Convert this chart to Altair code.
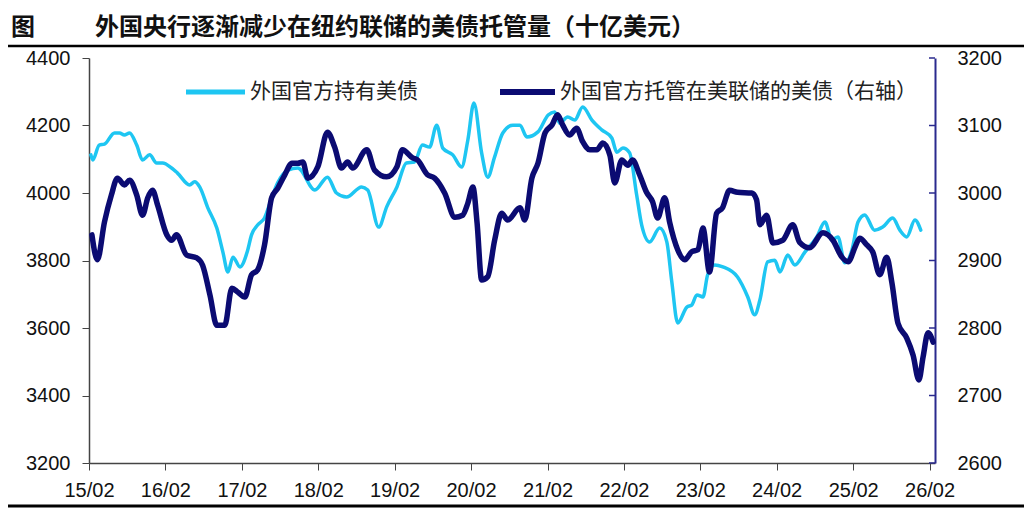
import altair as alt
import pandas as pd

# ---------------- data ----------------
light_dates = [
    "2015-02-10", "2015-02-19", "2015-03-22", "2015-04-16", "2015-06-03", "2015-06-27", "2015-07-20",
    "2015-08-14", "2015-09-17", "2015-10-15", "2015-11-18", "2015-12-21", "2016-01-19", "2016-03-02",
    "2016-03-30", "2016-05-27", "2016-06-20", "2016-07-14", "2016-08-22", "2016-10-04", "2016-11-02",
    "2016-11-26", "2016-12-20", "2017-01-23", "2017-02-26", "2017-03-19", "2017-04-17", "2017-05-20",
    "2017-06-23", "2017-07-22", "2017-09-09", "2017-10-26", "2018-01-16", "2018-03-17", "2018-04-29",
    "2018-06-16", "2018-08-27", "2018-09-25", "2018-11-17", "2018-12-25", "2019-02-12", "2019-03-29",
    "2019-05-07", "2019-06-14", "2019-07-18", "2019-08-21", "2019-09-19", "2019-11-06", "2019-12-18",
    "2020-01-17", "2020-02-15", "2020-03-23", "2020-04-21", "2020-05-24", "2020-07-02", "2020-08-19",
    "2020-09-22", "2020-10-25", "2020-12-17", "2021-02-04", "2021-03-07", "2021-03-31", "2021-05-08",
    "2021-06-11", "2021-07-19", "2021-09-01", "2021-10-18", "2021-12-05", "2021-12-29", "2022-01-27",
    "2022-02-28", "2022-04-03", "2022-04-27", "2022-06-04", "2022-07-22", "2022-08-25", "2022-09-18",
    "2022-10-16", "2022-11-29", "2022-12-22", "2023-01-16", "2023-02-14", "2023-03-08", "2023-04-11",
    "2023-05-20", "2023-07-29", "2023-09-16", "2023-10-19", "2023-11-13", "2023-12-20", "2024-01-23",
    "2024-02-17", "2024-03-25", "2024-04-28", "2024-06-15", "2024-08-11", "2024-09-19", "2024-10-22",
    "2024-11-20", "2024-12-23", "2025-01-26", "2025-02-24", "2025-03-28", "2025-05-14", "2025-06-22",
    "2025-08-09", "2025-09-12", "2025-10-15", "2025-11-23", "2025-12-21",
]
light_vals = [
    4113, 4098, 4142, 4145, 4178, 4178, 4172,
    4178, 4142, 4098, 4113, 4089, 4089, 4074,
    4059, 4024, 4033, 4018, 3956, 3896, 3825,
    3766, 3810, 3781, 3825, 3876, 3905, 3926,
    3985, 4030, 4068, 4074, 4009, 4047, 4000,
    3988, 4018, 4009, 3899, 3959, 4018, 4089,
    4092, 4142, 4136, 4201, 4133, 4113, 4077,
    4157, 4267, 4118, 4047, 4107, 4178, 4201,
    4201, 4166, 4181, 4231, 4240, 4207, 4225,
    4216, 4255, 4216, 4187, 4163, 4121, 4133,
    4119, 3994, 3905, 3855, 3896, 3855, 3736,
    3615, 3662, 3668, 3698, 3692, 3757, 3787,
    3781, 3751, 3692, 3639, 3683, 3796, 3801,
    3766, 3816, 3787, 3825, 3870, 3914, 3861,
    3870, 3793, 3831, 3914, 3935, 3890, 3899,
    3926, 3890, 3870, 3920, 3890,
]

dark_dates = [
    "2015-02-15", "2015-03-13", "2015-04-16", "2015-05-19", "2015-06-17", "2015-07-20", "2015-08-14",
    "2015-09-17", "2015-10-15", "2015-11-09", "2015-12-02", "2015-12-26", "2016-02-08", "2016-03-02",
    "2016-03-25", "2016-05-13", "2016-06-30", "2016-07-28", "2016-09-01", "2016-10-04", "2016-11-11",
    "2016-12-15", "2017-01-13", "2017-02-15", "2017-03-19", "2017-04-17", "2017-05-20", "2017-06-23",
    "2017-07-22", "2017-08-25", "2017-09-28", "2017-10-26", "2017-11-19", "2017-12-13", "2018-01-30",
    "2018-03-17", "2018-04-20", "2018-05-23", "2018-06-21", "2018-07-15", "2018-09-21", "2018-10-28",
    "2018-12-25", "2019-02-12", "2019-03-10", "2019-04-28", "2019-05-21", "2019-07-08", "2019-08-11",
    "2019-09-28", "2019-11-16", "2019-12-23", "2020-01-17", "2020-02-10", "2020-03-01", "2020-03-23",
    "2020-04-21", "2020-05-24", "2020-06-27", "2020-07-25", "2020-09-22", "2020-10-15", "2020-11-18",
    "2020-12-17", "2021-01-20", "2021-02-23", "2021-03-21", "2021-04-14", "2021-05-17", "2021-06-20",
    "2021-07-19", "2021-08-22", "2021-09-25", "2021-10-23", "2021-11-26", "2021-12-19", "2022-01-22",
    "2022-02-20", "2022-03-14", "2022-04-17", "2022-05-20", "2022-06-18", "2022-07-12", "2022-08-15",
    "2022-09-08", "2022-10-16", "2022-11-19", "2022-12-22", "2023-01-21", "2023-02-14", "2023-03-17",
    "2023-04-20", "2023-05-18", "2023-06-21", "2023-07-29", "2023-10-05", "2023-10-28", "2023-11-13",
    "2023-12-15", "2024-01-14", "2024-03-01", "2024-04-18", "2024-05-21", "2024-07-08", "2024-09-09",
    "2024-10-27", "2024-12-09", "2025-01-08", "2025-02-10", "2025-03-04", "2025-04-07", "2025-05-05",
    "2025-06-08", "2025-07-11", "2025-08-05", "2025-09-03", "2025-10-15", "2025-11-14", "2025-12-12",
    "2026-01-01", "2026-01-25", "2026-02-18",
]
dark_vals = [
    2938, 2901, 2957, 2997, 3022, 3012, 3019,
    2997, 2967, 2993, 3004, 2982, 2938, 2930,
    2938, 2908, 2904, 2893, 2849, 2804, 2804,
    2859, 2853, 2846, 2879, 2886, 2923, 2993,
    3007, 3027, 3044, 3044, 3046, 3022, 3039,
    3090, 3068, 3037, 3046, 3037, 3064, 3034,
    3024, 3039, 3064, 3052, 3049, 3027, 3022,
    3000, 2964, 2967, 2985, 3009, 2956, 2871,
    2876, 2930, 2970, 2960, 2978, 2960, 3022,
    3044, 3089, 3101, 3116, 3101, 3086, 3096,
    3076, 3064, 3064, 3074, 3056, 3015, 3049,
    3041, 3049, 3027, 3001, 2987, 2963, 2993,
    2956, 2916, 2901, 2913, 2916, 2948, 2883,
    2970, 2978, 3004, 3001, 3000, 2990, 2953,
    2967, 2926, 2930, 2953, 2927, 2919, 2941,
    2930, 2905, 2898, 2920, 2933, 2923, 2913,
    2879, 2905, 2867, 2807, 2785, 2760, 2723,
    2757, 2793, 2779,
]

left_ticks = [3200, 3400, 3600, 3800, 4000, 4200, 4400]
right_ticks = [2600, 2700, 2800, 2900, 3000, 3100, 3200]
tick_years = list(range(2015, 2027))

title_fig = "图"
title_main = "外国央行逐渐减少在纽约联储的美债托管量（十亿美元）"
name_light = "外国官方持有美债"
name_dark = "外国官方托管在美联储的美债（右轴）"

# ---------------- style ----------------
W, H = 846, 405
LIGHT = "#1EC6F2"
DARK = "#0B0B72"
AXIS_R = "#2A2A8E"
NUM_FONT = "Liberation Sans"
CJK_FONT = "Noto Sans CJK SC"

light_df = pd.DataFrame({"date": light_dates, "value": light_vals})
dark_df = pd.DataFrame({"date": dark_dates, "value": dark_vals})
rt_df = pd.DataFrame({"value": right_ticks})

x_scale = alt.Scale(
    type="utc",
    domain=[alt.DateTime(year=2015, month=2, date=1, utc=True),
            alt.DateTime(year=2026, month=2, date=27, utc=True)],
)
x_axis = alt.Axis(
    values=[alt.DateTime(year=y, month=2, date=1, utc=True) for y in tick_years],
    labelExpr="utcFormat(datum.value, '%y/%m')",
    title=None, grid=False, tickSize=7, tickColor="#444", domainColor="#444",
    domainWidth=1.5, labelFontSize=20, labelFont=NUM_FONT, labelColor="#111",
    labelPadding=10, labelFlush=False, labelOverlap=False,
)
left_axis = alt.Axis(values=left_ticks, orient="left", format="d", title=None, grid=False, tickSize=7,
                     tickColor="#444", domainColor="#444", domainWidth=1.5,
                     labelFontSize=20, labelFont=NUM_FONT, labelColor="#111", labelPadding=12)
right_axis = alt.Axis(values=right_ticks, orient="right", format="d", title=None, grid=False, ticks=False,
                      tickSize=0, domainColor=AXIS_R, domainWidth=2,
                      labelFontSize=20, labelFont=NUM_FONT, labelColor="#111", labelPadding=22)
right_scale = alt.Scale(domain=[2600, 3200], zero=False, nice=False)

light_line = alt.Chart(light_df).mark_line(
    color=LIGHT, strokeWidth=3.5, interpolate="monotone", strokeCap="round", strokeJoin="round"
).encode(
    x=alt.X("date:T", scale=x_scale, axis=x_axis),
    y=alt.Y("value:Q", scale=alt.Scale(domain=[3200, 4400], zero=False, nice=False), axis=left_axis),
)

dark_line = alt.Chart(dark_df).mark_line(
    color=DARK, strokeWidth=5.5, interpolate="monotone", strokeCap="round", strokeJoin="round"
).encode(
    x=alt.X("date:T", scale=x_scale, axis=x_axis),
    y=alt.Y("value:Q", scale=right_scale, axis=right_axis),
)

dark_ticks = alt.Chart(rt_df).mark_rule(color=AXIS_R, strokeWidth=1.5).encode(
    y=alt.Y("value:Q", scale=right_scale, axis=right_axis),
    x=alt.value(W - 6),
    x2=alt.value(W),
)

dark_group = alt.layer(dark_line, dark_ticks)


def text_layer(txt, x, y, size, weight, color="#111"):
    return alt.Chart(pd.DataFrame({"t": [txt]})).mark_text(
        align="left", baseline="middle", fontSize=size, fontWeight=weight, font=CJK_FONT, color=color
    ).encode(x=alt.value(x), y=alt.value(y), text="t:N")


def rule_layer(x1, x2, y, color, width):
    return alt.Chart(pd.DataFrame({"a": [0]})).mark_rule(color=color, strokeWidth=width).encode(
        x=alt.value(x1), x2=alt.value(x2), y=alt.value(y)
    )


layers = [
    light_line,
    dark_group,
    text_layer(title_fig, -78, -30, 24, "bold"),
    text_layer(title_main, 6, -30, 24, "bold"),
    rule_layer(-81, W + 89, -12, "#000", 2.5),
    rule_layer(-81, W + 89, 448, "#000", 3),
    rule_layer(97, 156, 34, LIGHT, 5),
    text_layer(name_light, 161, 34, 21, "normal", "#222"),
    rule_layer(411, 466, 34, DARK, 6),
    text_layer(name_dark, 471, 34, 21, "normal", "#222"),
]

chart = alt.layer(*layers).resolve_scale(y="independent").properties(
    width=W, height=H,
    padding={"left": 81, "top": 50, "right": 89, "bottom": 45},
    autosize=alt.AutoSizeParams(type="none"),
).configure_view(stroke=None).configure_axis(grid=False)

chart.save("out.html", embed_options={"renderer": "svg", "actions": False})
